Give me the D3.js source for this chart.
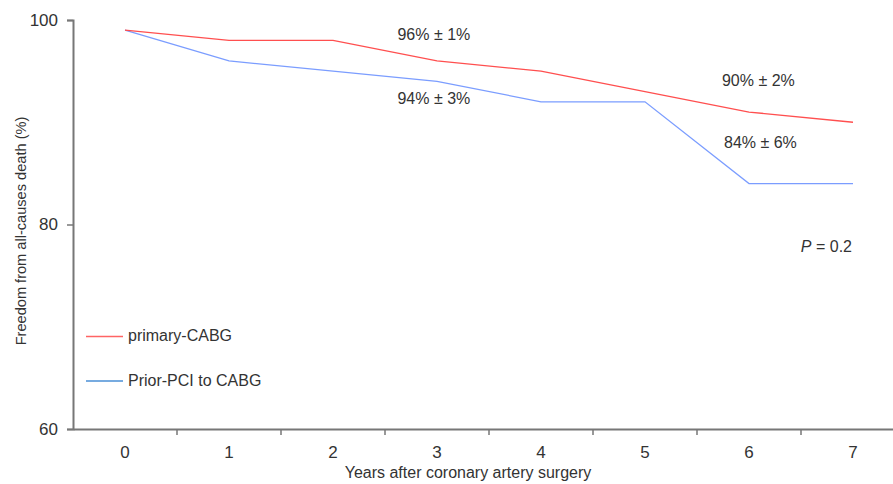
<!DOCTYPE html>
<html>
<head>
<meta charset="utf-8">
<script src="https://cdn.jsdelivr.net/npm/d3@7"></script>
<style>
  body { margin: 0; background: #fff; }
  text { font-family: "Liberation Sans", Arial, sans-serif; fill: #333; }
</style>
</head>
<body>
<script>
const years = ["0", "1", "2", "3", "4", "5", "6", "7"];
const primaryCABG = [99, 98, 98, 96, 95, 93, 91, 90];
const priorPCI = [99, 96, 95, 94, 92, 92, 84, 84];
const yTicks = [60, 80, 100];
// survival estimates written beside the curves (at = position in years)
const notes = [
  { at: 2.97, value: 98.0, text: "96% \u00b1 1%" },
  { at: 2.97, value: 91.8, text: "94% \u00b1 3%" },
  { at: 6.09, value: 93.55, text: "90% \u00b1 2%" },
  { at: 6.11, value: 87.5, text: "84% \u00b1 6%" }
];

const width = 893, height = 484;
const plotLeft = 73, plotTop = 20, plotBottom = 429;

const svg = d3.select("body").append("svg")
  .attr("width", width)
  .attr("height", height);

const x = d3.scaleBand().domain(years).range([plotLeft, plotLeft + 8 * 104]);
const y = d3.scaleLinear().domain([60, 100]).range([plotBottom, plotTop]);
const cx = d => x(d) + x.bandwidth() / 2;
const xAt = v => plotLeft + (v + 0.5) * x.bandwidth();

// axes
const xAxis = svg.append("g")
  .attr("transform", `translate(0,${plotBottom})`)
  .call(d3.axisBottom(x).tickSize(0).tickPadding(17));
xAxis.select(".domain").attr("stroke", "#777").attr("stroke-width", 2);
xAxis.selectAll("text").attr("font-size", 17).attr("fill", "#333");

// tick marks sit on the band boundaries
svg.append("g").selectAll("line")
  .data(years.slice(1))
  .enter()
  .append("line")
  .attr("x1", d => x(d)).attr("x2", d => x(d))
  .attr("y1", plotBottom).attr("y2", plotBottom + 6)
  .attr("stroke", "#777").attr("stroke-width", 1.5);

const yAxis = svg.append("g")
  .attr("transform", `translate(${plotLeft},0)`)
  .call(d3.axisLeft(y).tickValues(yTicks).tickSize(6).tickPadding(9));
yAxis.select(".domain").attr("stroke", "#777").attr("stroke-width", 2);
yAxis.selectAll(".tick line").attr("stroke", "#777").attr("stroke-width", 1.5);
yAxis.selectAll("text").attr("font-size", 17).attr("fill", "#333");

// curves
const line = d3.line().x((d, i) => cx(years[i])).y(d => y(d));
svg.append("path").datum(priorPCI)
  .attr("fill", "none").attr("stroke", "#7b9dff").attr("stroke-width", 1.3)
  .attr("d", line);
svg.append("path").datum(primaryCABG)
  .attr("fill", "none").attr("stroke", "#ff4f4f").attr("stroke-width", 1.3)
  .attr("d", line);

// annotations
svg.append("g").selectAll("text")
  .data(notes)
  .enter()
  .append("text")
  .attr("x", d => xAt(d.at))
  .attr("y", d => y(d.value))
  .attr("text-anchor", "middle")
  .attr("font-size", 16)
  .text(d => d.text);

const p = svg.append("text")
  .attr("x", 852).attr("y", 252)
  .attr("text-anchor", "end")
  .attr("font-size", 16);
p.append("tspan").attr("font-style", "italic").text("P");
p.append("tspan").text(" = 0.2");

// legend
const legend = [
  { name: "primary-CABG", color: "#ff6464" },
  { name: "Prior-PCI to CABG", color: "#4a8fd6" }
];
const lg = svg.append("g").selectAll("g")
  .data(legend)
  .enter()
  .append("g")
  .attr("transform", (d, i) => `translate(0,${336.5 + i * 44.5})`);
lg.append("line")
  .attr("x1", 86).attr("x2", 123)
  .attr("stroke", d => d.color).attr("stroke-width", 1.3);
lg.append("text")
  .attr("x", 128).attr("y", 4.5)
  .attr("font-size", 16)
  .text(d => d.name);

// titles
svg.append("text")
  .attr("x", 468).attr("y", 478)
  .attr("text-anchor", "middle")
  .attr("font-size", 16)
  .text("Years after coronary artery surgery");

svg.append("text")
  .attr("transform", "translate(26,231) rotate(-90)")
  .attr("text-anchor", "middle")
  .attr("font-size", 14.6)
  .text("Freedom from all-causes death (%)");
</script>
</body>
</html>
